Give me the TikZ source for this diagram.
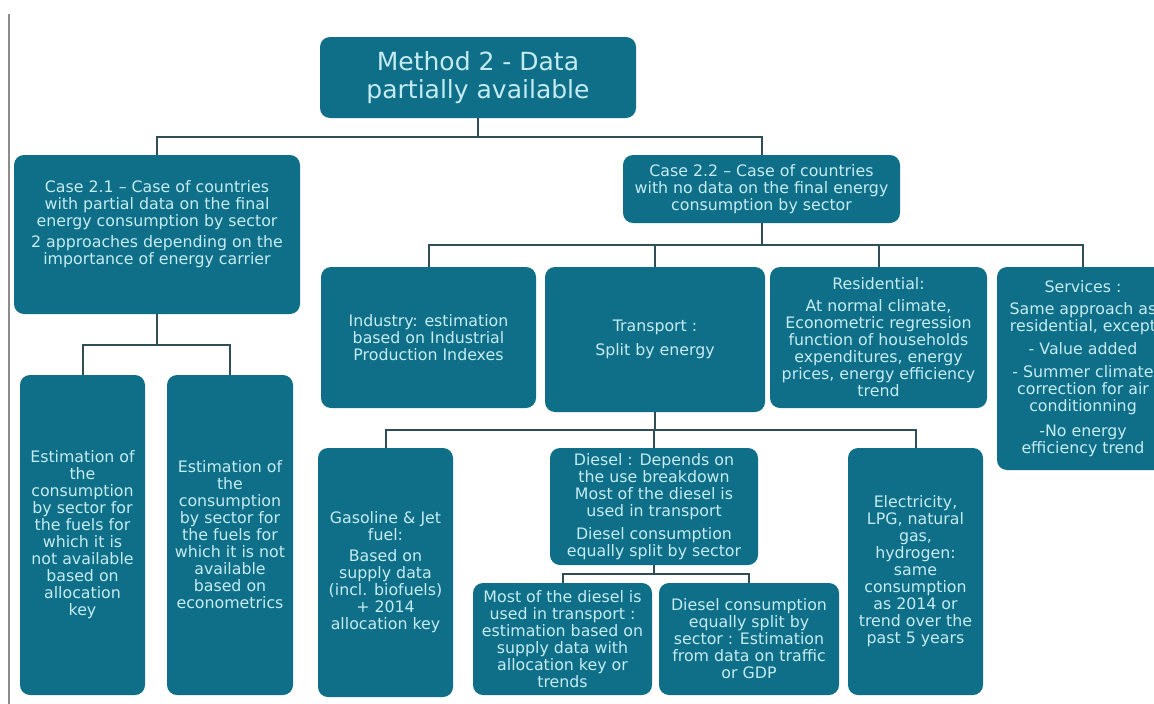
\documentclass[tikz,border=0pt]{standalone}
\usepackage{fontspec}
\newfontfamily\vfont{DejaVu Sans}
\definecolor{boxc}{RGB}{15,111,136}
\definecolor{txtc}{RGB}{196,236,242}
\definecolor{linec}{RGB}{48,78,88}
\definecolor{sidec}{RGB}{140,140,140}
\tikzset{
  box/.style={fill=boxc, draw=none, rounded corners=10pt, text=txtc, align=center,
    inner sep=2pt, font=\vfont\fontsize{15.8}{17}\selectfont},
  titlebox/.style={box, font=\vfont\fontsize{25}{28}\selectfont},
  conn/.style={draw=linec, line width=2pt}
}
\begin{document}
\begin{tikzpicture}[x=1pt,y=-1pt]
\useasboundingbox (0,0) rectangle (1154,704);
\clip (0,0) rectangle (1154,704);
\fill[white] (0,0) rectangle (1154,704);
\draw[sidec, line width=2pt] (9,14) -- (9,704);

% top
\node[titlebox, minimum width=316, minimum height=81] (m2) at (478,77.5)
  {Method 2 - Data\\partially available};

% case 2.1 branch
\node[box, minimum width=286, minimum height=159] (c21) at (157,234.5)
  {Case 2.1 – Case of countries\\with partial data on the final\\energy consumption by sector\\[4pt]2 approaches depending on the\\importance of energy carrier\\[8pt]\mbox{}};
\node[box, minimum width=125, minimum height=320] (ea) at (82.5,535)
  {Estimation of\\the\\consumption\\by sector for\\the fuels for\\which it is\\not available\\based on\\allocation\\key};
\node[box, minimum width=126, minimum height=320] (eb) at (230,535)
  {Estimation of\\the\\consumption\\by sector for\\the fuels for\\which it is not\\available\\based on\\econometrics};

% case 2.2 branch
\node[box, minimum width=277, minimum height=68] (c22) at (761.5,189)
  {Case 2.2 – Case of countries\\with no data on the final energy\\consumption by sector};
\node[box, minimum width=215, minimum height=141] (ind) at (428.5,337.5)
  {Industry: estimation\\based on Industrial\\Production Indexes};
\node[box, minimum width=220, minimum height=145] (tra) at (655,339.5)
  {Transport :\\[7pt]Split by energy};
\node[box, minimum width=217, minimum height=141] (res) at (878.5,337.5)
  {Residential:\\[5pt]At normal climate,\\Econometric regression\\function of households\\expenditures, energy\\prices, energy efficiency\\trend};
\node[box, minimum width=172, minimum height=203] (ser) at (1083,368.5)
  {Services :\\[5pt]Same approach as\\residential, except\\[6pt]- Value added\\[6pt]- Summer climate\\correction for air\\conditionning\\[8pt]-No energy\\efficiency trend};

% transport children
\node[box, minimum width=135, minimum height=249] (gas) at (385.5,572.5)
  {Gasoline \& Jet\\fuel:\\[4pt]Based on\\supply data\\(incl. biofuels)\\+ 2014\\allocation key};
\node[box, minimum width=208, minimum height=117] (die) at (654,506.5)
  {Diesel : Depends on\\the use breakdown\\Most of the diesel is\\used in transport\\[6pt]Diesel consumption\\equally split by sector};
\node[box, minimum width=135, minimum height=247] (ele) at (915.5,571.5)
  {Electricity,\\LPG, natural\\gas,\\hydrogen:\\same\\consumption\\as 2014 or\\trend over the\\past 5 years};

% diesel children
\node[box, minimum width=179, minimum height=112] (dmt) at (562.5,639)
  {Most of the diesel is\\used in transport :\\estimation based on\\supply data with\\allocation key or\\trends};
\node[box, minimum width=180, minimum height=112] (dce) at (749,639)
  {Diesel consumption\\equally split by\\sector : Estimation\\from data on traffic\\or GDP};

% connectors
\draw[conn] (m2.south) -- ++(0,19) -| (c21.north);
\draw[conn] (m2.south) -- ++(0,19) -| (c22.north);
\draw[conn] (c21.south) -- ++(0,31) -| (ea.north);
\draw[conn] (c21.south) -- ++(0,31) -| (eb.north);
\draw[conn] (c22.south) -- ++(0,22) -| (ind.north);
\draw[conn] (c22.south) -- ++(0,22) -| (tra.north);
\draw[conn] (c22.south) -- ++(0,22) -| (res.north);
\draw[conn] (c22.south) -- ++(0,22) -| (ser.north);
\draw[conn] (tra.south) -- ++(0,18) -| (gas.north);
\draw[conn] (tra.south) -- ++(0,18) -| (die.north);
\draw[conn] (tra.south) -- ++(0,18) -| (ele.north);
\draw[conn] (die.south) -- ++(0,9) -| (dmt.north);
\draw[conn] (die.south) -- ++(0,9) -| (dce.north);
\end{tikzpicture}
\end{document}
